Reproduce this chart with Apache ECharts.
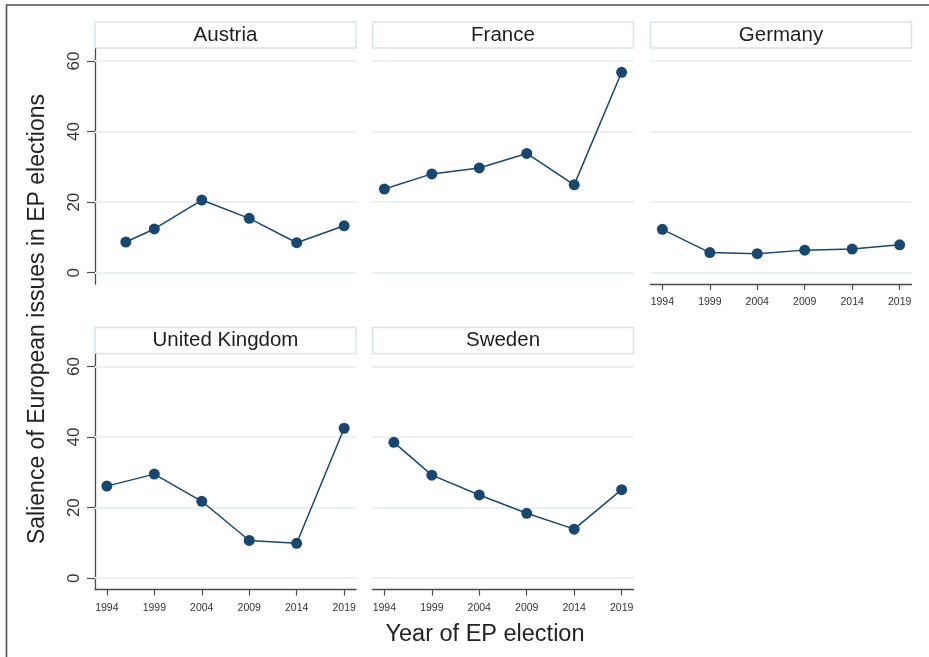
<!DOCTYPE html>
<html>
<head>
<meta charset="utf-8">
<script src="https://cdn.jsdelivr.net/npm/echarts@6/dist/echarts.min.js"></script>
<style>
  html, body { margin: 0; padding: 0; background: #fff; }
  #chart { width: 929px; height: 657px; }
</style>
</head>
<body>
<div id="chart"></div>
<script>
// Salience of European issues in EP election campaigns, by country
const countries = ['Austria', 'France', 'Germany', 'United Kingdom', 'Sweden'];
const tickYears = [1994, 1999, 2004, 2009, 2014, 2019];
const yTicks = [0, 20, 40, 60];

const yearsAustria = [1996, 1999, 2004, 2009, 2014, 2019];
const yearsFrance  = [1994, 1999, 2004, 2009, 2014, 2019];
const yearsGermany = [1994, 1999, 2004, 2009, 2014, 2019];
const yearsUK      = [1994, 1999, 2004, 2009, 2014, 2019];
const yearsSweden  = [1995, 1999, 2004, 2009, 2014, 2019];

const salienceAustria = [8.7, 12.4, 20.6, 15.4, 8.5, 13.3];
const salienceFrance  = [23.7, 28.0, 29.7, 33.8, 24.9, 56.8];
const salienceGermany = [12.3, 5.7, 5.4, 6.4, 6.7, 7.9];
const salienceUK      = [26.1, 29.5, 21.8, 10.7, 9.9, 42.5];
const salienceSweden  = [38.5, 29.2, 23.6, 18.4, 13.9, 25.1];

const panelYears = [yearsAustria, yearsFrance, yearsGermany, yearsUK, yearsSweden];
const panelValues = [salienceAustria, salienceFrance, salienceGermany, salienceUK, salienceSweden];

// panel layout: [column, row, showY, showX]
const layout = [
  [0, 0, true, false],
  [1, 0, false, false],
  [2, 0, false, true],
  [0, 1, true, true],
  [1, 1, false, true]
];
const colLeft = [95, 372.5, 650.5];
const rowTop = [49, 354.5];
const panelW = 261, panelH = 235;

const navy = '#1a476f';
const axisGray = '#4a4a4a';
const gridColor = '#e9f1f3';
const stripBorder = '#d6e5ec';
const fontFam = '"Liberation Sans", Arial, Helvetica, sans-serif';

const grids = [], xAxes = [], yAxes = [], series = [], titles = [], graphics = [];

layout.forEach(([c, r, showY, showX], i) => {
  const left = colLeft[c], top = rowTop[r];
  grids.push({ left: left, top: top, width: panelW, height: panelH, containLabel: false });

  xAxes.push({
    type: 'value', gridIndex: i, min: 1992.75, max: 2020.25,
    position: 'bottom',
    axisLine: { show: showX, onZero: false, lineStyle: { color: axisGray, width: 1.3 } },
    axisTick: { show: showX, length: 6, customValues: tickYears, lineStyle: { color: axisGray, width: 1.2 } },
    axisLabel: { show: showX, customValues: tickYears, margin: 13, fontSize: 10.5, color: '#333', fontFamily: fontFam, formatter: v => String(v) },
    splitLine: { show: false }
  });

  yAxes.push({
    type: 'value', gridIndex: i, min: -3.2, max: 63.4,
    position: 'left',
    axisLine: { show: showY, onZero: false, lineStyle: { color: axisGray, width: 1.3 } },
    axisTick: { show: showY, length: 8, customValues: yTicks, lineStyle: { color: axisGray, width: 1.2 } },
    axisLabel: { show: showY, customValues: yTicks, rotate: 90, margin: 12, fontSize: 17, color: '#333', fontFamily: fontFam },
    splitLine: { show: false }
  });

  // light horizontal reference lines at the labelled values
  series.push({
    type: 'line', xAxisIndex: i, yAxisIndex: i, data: [], z: 1, silent: true,
    markLine: {
      z: 1, silent: true, symbol: ['none', 'none'], label: { show: false },
      lineStyle: { type: 'solid', color: gridColor, width: 1.8 },
      emphasis: { disabled: true },
      animation: false,
      data: yTicks.map(v => ({ yAxis: v }))
    }
  });

  series.push({
    type: 'line', xAxisIndex: i, yAxisIndex: i, z: 3,
    data: panelYears[i].map((y, k) => [y, panelValues[i][k]]),
    symbol: 'circle', symbolSize: 11,
    lineStyle: { color: navy, width: 1.5 },
    itemStyle: { color: navy },
    animation: false
  });

  // panel header strip
  graphics.push({
    type: 'rect', z: 0,
    shape: { x: left, y: top - 27, width: panelW, height: 26 },
    style: { fill: '#fff', stroke: stripBorder, lineWidth: 1.5 }
  });
  titles.push({
    text: countries[i], left: left + panelW / 2, top: top - 26.5, textAlign: 'center',
    padding: 0,
    textStyle: { fontSize: 20.5, fontWeight: 'normal', color: '#1e1e1e', fontFamily: fontFam, lineHeight: 25 }
  });
});

// outer frame
graphics.push({
  type: 'rect', z: 0,
  shape: { x: 6.5, y: 5, width: 940, height: 670 },
  style: { fill: 'none', stroke: '#505050', lineWidth: 1.6 }
});
// axis titles
graphics.push({
  type: 'text', x: 38, y: 319, rotation: Math.PI / 2,
  style: { text: 'Salience of European issues in EP elections', fontSize: 23, fontFamily: fontFam, fill: '#222', align: 'center', verticalAlign: 'middle' }
});
graphics.push({
  type: 'text', x: 485, y: 635,
  style: { text: 'Year of EP election', fontSize: 23.5, fontFamily: fontFam, fill: '#222', align: 'center', verticalAlign: 'middle' }
});

const chart = echarts.init(document.getElementById('chart'), null, { renderer: 'canvas' });
chart.setOption({
  backgroundColor: '#fff',
  animation: false,
  title: titles,
  grid: grids,
  xAxis: xAxes,
  yAxis: yAxes,
  series: series,
  graphic: graphics
});
</script>
</body>
</html>
